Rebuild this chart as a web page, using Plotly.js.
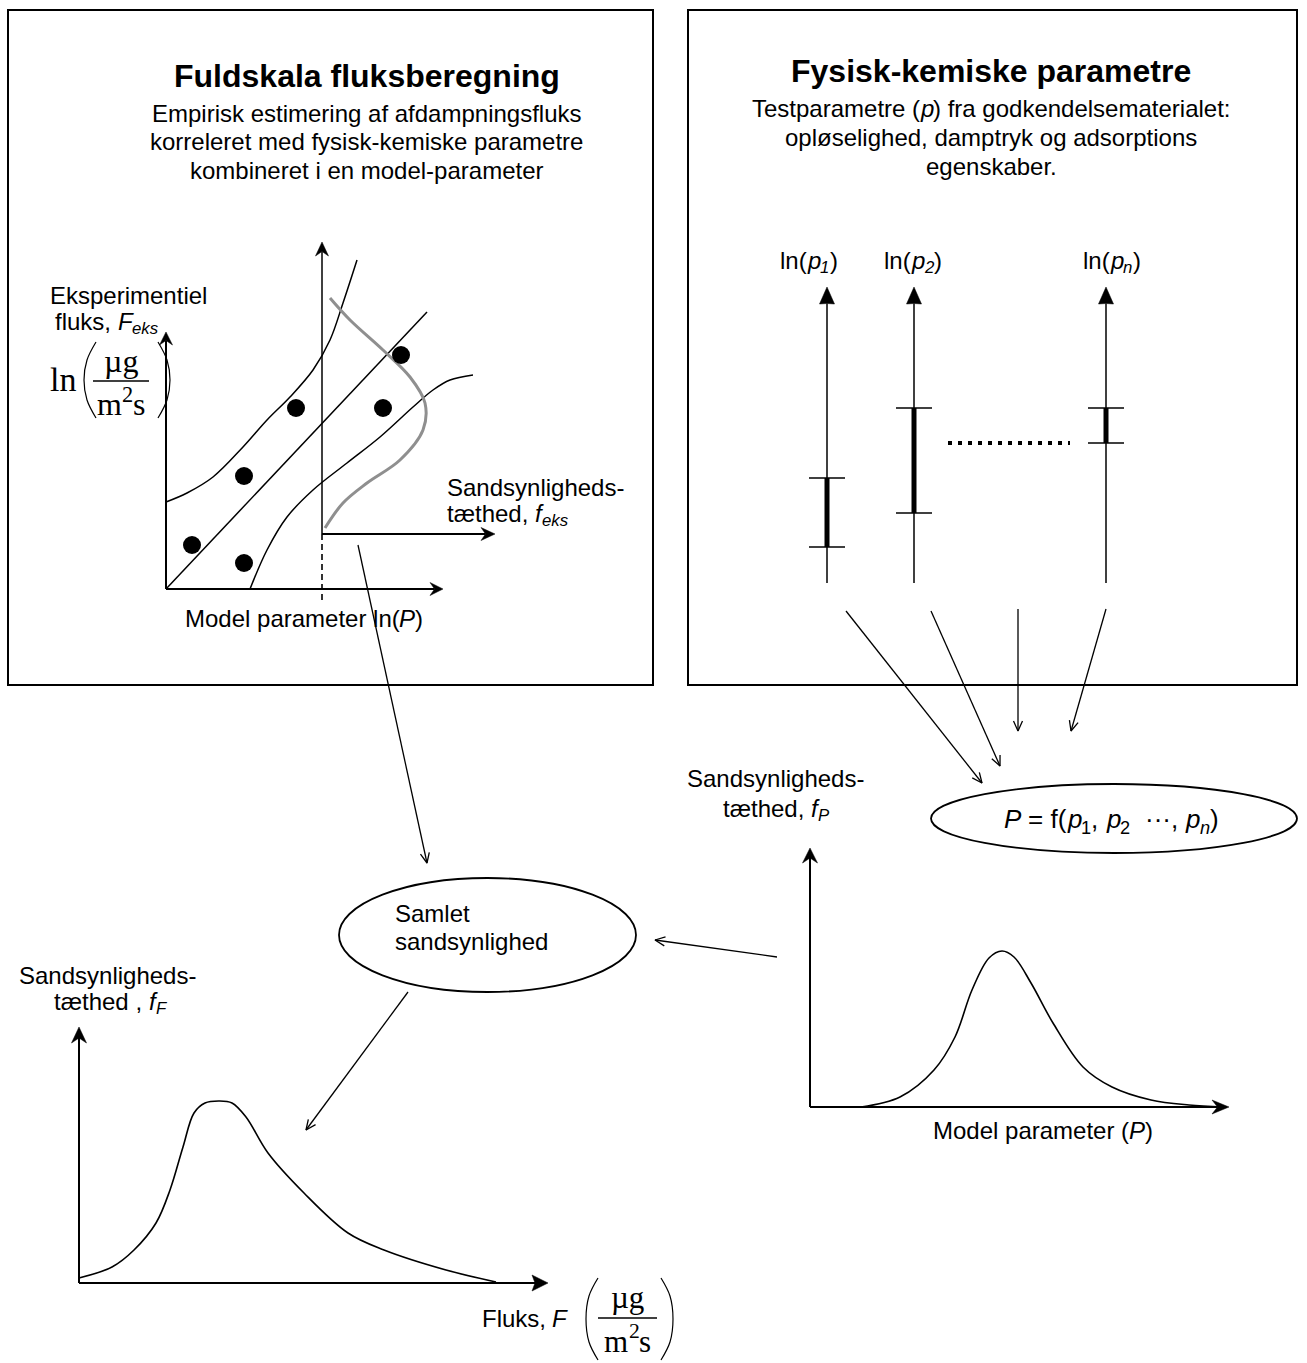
<!DOCTYPE html>
<html><head><meta charset="utf-8">
<script src="https://cdn.plot.ly/plotly-3.0.1.min.js"></script>
<style>html,body{margin:0;padding:0;background:#fff}#chart{width:1307px;height:1363px}</style>
</head><body><div id="chart"></div>
<script>
// ---------------- data (page units) ----------------
const leftTitle = 'Fuldskala fluksberegning';
const leftSub = ['Empirisk estimering af afdampningsfluks', 'korreleret med fysisk-kemiske parametre', 'kombineret i en model-parameter'];
const rightTitle = 'Fysisk-kemiske parametre';
const rightSub1 = [['Testparametre (', ''], ['p', 'i'], [') fra godkendelsematerialet:', '']];
const rightSub = ['opløselighed, damptryk og adsorptions', 'egenskaber.'];

// experimental scatter (left panel)
const expX = [192, 244, 244, 296, 383, 401];
const expY = [545, 476, 563, 408, 408, 355];
const regLineX = [166, 427];
const regLineY = [589, 312];
const upperBandX = [166, 187, 213, 243, 267, 290, 313, 330, 343, 357];
const upperBandY = [502, 493, 477, 447, 420, 397, 370, 340, 303, 260];
const lowerBandX = [250, 267, 287, 313, 347, 380, 413, 433, 450, 473];
const lowerBandY = [589, 550, 517, 490, 463, 437, 407, 390, 380, 375];
const densX = [330, 350, 383, 410, 425, 423, 400, 367, 343, 325];
const densY = [298, 320, 350, 377, 403, 430, 460, 483, 503, 528];

// test parameters (right panel)
const paramX = [827, 914, 1106];
const paramLabels = [
  [['ln(', ''], ['p', 'i'], ['1', 'is'], [')', '']],
  [['ln(', ''], ['p', 'i'], ['2', 'is'], [')', '']],
  [['ln(', ''], ['p', 'i'], ['n', 'is'], [')', '']]
];
const paramLabelX = [809, 913, 1112];
const paramLow = [547, 513, 443];
const paramHigh = [478, 408, 408];

// model parameter density f_P
const fPX = [861, 900, 934, 955, 972, 989, 1002, 1014, 1031, 1053, 1083, 1112, 1151, 1189, 1223];
const fPY = [1107, 1097, 1070, 1037, 990, 958, 951, 957, 983, 1023, 1067, 1087, 1100, 1105, 1107];

// total flux density f_F
const fFX = [79, 112, 134, 156, 170, 183, 194, 205, 219, 232, 246, 268, 304, 348, 384, 446, 496];
const fFY = [1278, 1267, 1250, 1223, 1190, 1147, 1113, 1103, 1101, 1103, 1117, 1153, 1193, 1233, 1250, 1270, 1282];

// arrows: [tailX, tailY, headX, headY]
const axisArrows = [
  [166, 589, 166, 332], [166, 589, 443, 589], [322, 534, 322, 242], [322, 534, 495, 534],
  [810, 1107, 810, 848], [810, 1107, 1229, 1107], [79, 1283, 79, 1027], [79, 1283, 548, 1283]
];
const flowArrows = [
  [358, 545, 427, 863], [846, 611, 982, 783], [931, 611, 1000, 766], [1018, 609, 1018, 731],
  [1106, 609, 1071, 731], [777, 957, 655, 940], [408, 992, 306, 1130]
];
const paramAxisTop = 287, paramAxisBottom = 583;

// ---------------- layout geometry ----------------
const boxes = [[8, 10, 653, 685], [688, 10, 1297, 685]];
const ellipses = [[339, 878, 636, 992], [931, 784, 1297, 853]];

const SANS = '"Liberation Sans", Arial, Helvetica, sans-serif';
const SERIF = '"Liberation Serif", "Times New Roman", serif';

const traces = [];
function seg(xs, ys, w, color, dash) {
  traces.push({type: 'scatter', mode: 'lines', x: xs, y: ys, hoverinfo: 'skip',
    line: {color: color || '#000', width: w, dash: dash || 'solid'}});
}
function spline(xs, ys, w, color) {
  traces.push({type: 'scatter', mode: 'lines', x: xs, y: ys, hoverinfo: 'skip',
    line: {color: color || '#000', width: w, shape: 'spline', smoothing: 1}});
}
// arrow drawn as shaft + head (page units == pixels, 1:1 axes)
function arrow(a, w, len, half, notch, filled) {
  const [tx, ty, hx, hy] = a;
  const dx = hx - tx, dy = hy - ty, L = Math.hypot(dx, dy);
  const ux = dx / L, uy = dy / L, nx = -uy, ny = ux;
  const bx = hx - len * ux, by = hy - len * uy;
  const lx = bx + half * nx, ly = by + half * ny, rx = bx - half * nx, ry = by - half * ny;
  if (filled) {
    const mx = hx - (len - notch) * ux, my = hy - (len - notch) * uy;
    seg([tx, mx], [ty, my], w);
    traces.push({type: 'scatter', mode: 'lines', x: [hx, lx, mx, rx, hx], y: [hy, ly, my, ry, hy],
      fill: 'toself', fillcolor: '#000', line: {color: '#000', width: 0.5}, hoverinfo: 'skip'});
  } else {
    seg([tx, hx], [ty, hy], w);
    seg([lx, hx, rx], [ly, hy, ry], w);
  }
}

// left panel curves
seg(regLineX, regLineY, 1.5);
spline(upperBandX, upperBandY, 1.5);
spline(lowerBandX, lowerBandY, 1.5);
spline(densX, densY, 3, '#8f8f8f');
traces.push({type: 'scatter', mode: 'markers', x: expX, y: expY, hoverinfo: 'skip',
  marker: {size: 18, color: '#000'}});
seg([322, 322], [534, 600], 1.6, '#000', '6px,4px');

// error bars
const barX = [], barY = [], capX = [], capY = [];
paramX.forEach((x, i) => {
  barX.push(x, x, null); barY.push(paramLow[i], paramHigh[i], null);
  [paramLow[i], paramHigh[i]].forEach(y => { capX.push(x - 18, x + 18, null); capY.push(y, y, null); });
});
seg(barX, barY, 5);
seg(capX, capY, 1.5);
// dotted ellipsis between p2 and pn
seg([948, 1070], [443, 443], 4, '#000', '4px,6px');

// densities
spline(fPX, fPY, 1.6);
spline(fFX, fFY, 1.6);

// fraction brackets (ln(µg/m²s)) — two instances
function paren(cx, cyTop, cyBot, dir) {
  const mid = (cyTop + cyBot) / 2;
  spline([cx, cx - dir * 9, cx - dir * 12, cx - dir * 9, cx], [cyTop, cyTop + 18, mid, cyBot - 18, cyBot], 1.2);
}
paren(96, 342, 418, 1); paren(158, 342, 418, -1);
seg([93, 149], [381, 381], 1.3);
paren(598, 1278, 1360, 1); paren(661, 1278, 1360, -1);
seg([598, 657], [1318, 1318], 1.3);

// arrows
const axisStyle = [
  [2, 13, 6.5, 4.5], [2, 13, 6.5, 4.5], [1.5, 14, 6.5, 4.5], [2, 14, 6.5, 4.5],
  [2, 15, 7.5, 5], [2, 17, 7, 5.5], [2, 16, 7.5, 5], [2, 16, 8, 3]
];
axisArrows.forEach((a, i) => { const s = axisStyle[i]; arrow(a, s[0], s[1], s[2], s[3], true); });
paramX.forEach(x => arrow([x, paramAxisBottom, x, paramAxisTop], 1.5, 17, 7.5, 0.5, true));
flowArrows.forEach(a => arrow(a, 1.3, 10, 4.5, 0, false));

// ---------------- shapes ----------------
const shapes = [];
boxes.forEach(b => shapes.push({type: 'rect', xref: 'x', yref: 'y', x0: b[0], y0: b[1], x1: b[2], y1: b[3],
  line: {color: '#000', width: 2}}));
ellipses.forEach(e => shapes.push({type: 'circle', xref: 'x', yref: 'y', x0: e[0], y0: e[1], x1: e[2], y1: e[3],
  line: {color: '#000', width: 1.8}}));

// ---------------- text (each styled run is its own annotation, measured so runs abut) ----------------
const ann = [];
const ctx = document.createElement('canvas').getContext('2d');
function measure(t, size, family, it, bd) {
  ctx.font = (it ? 'italic ' : '') + (bd ? 'bold ' : '') + size + 'px ' + family;
  return ctx.measureText(t).width;
}
function rich(x, y, pieces, size, align, family) {
  family = family || SANS;
  const parts = pieces.map(([t, f]) => {
    const sub = f.includes('s'), sup = f.includes('S');
    const sz = (sub || sup) ? size * 0.7 : size;
    const it = f.includes('i'), bd = f.includes('b');
    return {t, sz, it, bd, sub, sup, w: measure(t, sz, family, it, bd)};
  });
  const W = parts.reduce((a, p) => a + p.w, 0);
  let cx = align === 'left' ? x : (align === 'right' ? x - W : x - W / 2);
  parts.forEach(p => {
    const lead = p.t.match(/^\s*/)[0], body = p.t.trim();
    if (body) {
      const lx = cx + (lead ? measure(lead, p.sz, family, p.it, p.bd) : 0);
      let yy = y;
      if (p.sub) yy = y + 0.33 * size;
      if (p.sup) yy = y - 0.31 * size;
      ann.push({x: lx, y: yy, xref: 'x', yref: 'y', text: body, showarrow: false,
        xanchor: 'left', yanchor: 'middle', borderpad: 0, borderwidth: 0,
        font: {family: family, size: p.sz, color: '#000', style: p.it ? 'italic' : 'normal',
          weight: p.bd ? 'bold' : 'normal'}});
    }
    cx += p.w;
  });
}
const plain = t => [[t, '']];

// titles
rich(367, 76, [[leftTitle, 'b']], 32, 'center');
leftSub.forEach((s, i) => rich(367, 113 + 28.5 * i, plain(s), 24, 'center'));
rich(991, 71, [[rightTitle, 'b']], 32, 'center');
rich(991, 108, rightSub1, 24, 'center');
rightSub.forEach((s, i) => rich(991, 137.5 + 29 * i, plain(s), 24, 'center'));

// left panel labels
rich(50, 295, plain('Eksperimentiel'), 24, 'left');
rich(55, 321, [['fluks, ', ''], ['F', 'i'], ['eks', 'is']], 24, 'left');
rich(50, 379, plain('ln'), 34, 'left', SERIF);
rich(121, 361, plain('µg'), 32, 'center', SERIF);
rich(121, 404, [['m', ''], ['2', 'S'], ['s', '']], 32, 'center', SERIF);
rich(447, 487, plain('Sandsynligheds-'), 24, 'left');
rich(447, 513, [['tæthed, ', ''], ['f', 'i'], ['eks', 'is']], 24, 'left');
rich(304, 618, [['Model parameter ln(', ''], ['P', 'i'], [')', '']], 24, 'center');

// right panel labels
paramLabels.forEach((t, i) => rich(paramLabelX[i], 260, t, 24, 'center'));

// middle / bottom labels
rich(776, 778, plain('Sandsynligheds-'), 24, 'center');
rich(776, 808, [['tæthed, ', ''], ['f', 'i'], ['P', 'is']], 24, 'center');
rich(1111, 819, [['P', 'i'], [' = f(', ''], ['p', 'i'], ['1', 's'], [', ', ''], ['p', 'i'], ['2', 's'],
  ['  ···, ', ''], ['p', 'i'], ['n', 'is'], [')', '']], 26, 'center');
rich(395, 913, plain('Samlet'), 24, 'left');
rich(395, 941, plain('sandsynlighed'), 24, 'left');
rich(108, 975, plain('Sandsynligheds-'), 24, 'center');
rich(110, 1001, [['tæthed , ', ''], ['f', 'i'], ['F', 'is']], 24, 'center');
rich(1043, 1130, [['Model parameter (', ''], ['P', 'i'], [')', '']], 24, 'center');
rich(567, 1318, [['Fluks, ', ''], ['F', 'i']], 24, 'right');
rich(628, 1297, plain('µg'), 31, 'center', SERIF);
rich(628, 1341, [['m', ''], ['2', 'S'], ['s', '']], 31, 'center', SERIF);

const layout = {
  width: 1307, height: 1363, margin: {l: 0, r: 0, t: 0, b: 0},
  paper_bgcolor: '#fff', plot_bgcolor: '#fff', showlegend: false,
  xaxis: {range: [0, 1307], visible: false, fixedrange: true},
  yaxis: {range: [1363, 0], visible: false, fixedrange: true},
  shapes: shapes, annotations: ann, hovermode: false
};
Plotly.newPlot('chart', traces, layout, {staticPlot: true, displayModeBar: false});
</script></body></html>
